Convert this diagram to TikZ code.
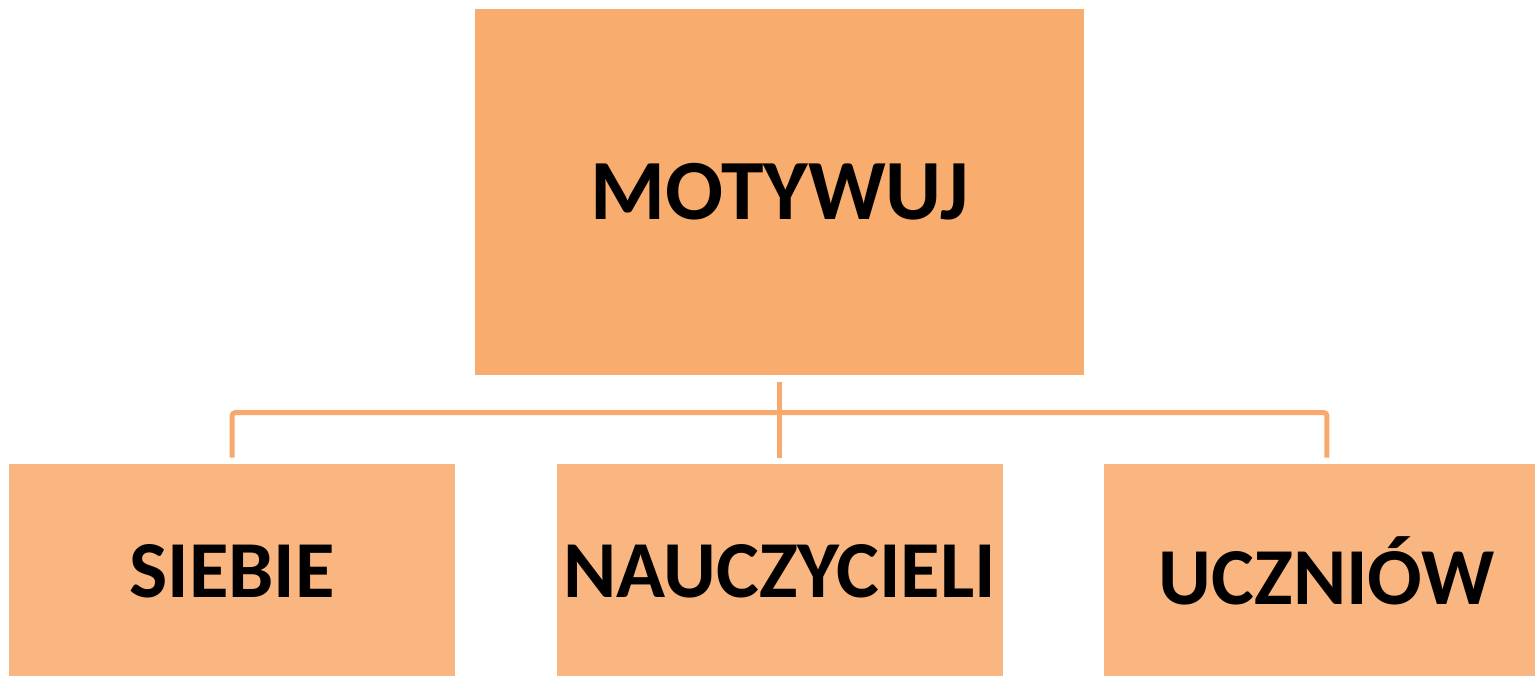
\documentclass[tikz,border=0pt]{standalone}
\usepackage{fontspec}
\setmainfont{Carlito}
\usetikzlibrary{positioning}
\definecolor{topfill}{HTML}{F8AC6E}
\definecolor{kidfill}{HTML}{F9B680}
\definecolor{linkcol}{HTML}{F8A96B}
\tikzset{
    %Define style for the top box
    topbox/.style={
           rectangle,
           fill=topfill,
           minimum width=6.09cm,
           minimum height=3.66cm,
           inner sep=0pt,
           font=\bfseries\fontsize{24.4}{29}\selectfont},
    %Define style for the lower boxes
    kidbox/.style={
           rectangle,
           fill=kidfill,
           minimum width=4.46cm,
           minimum height=2.13cm,
           inner sep=0pt,
           font=\bfseries\fontsize{23}{28}\selectfont},
    % Define connector style
    link/.style={
           draw=linkcol,
           line width=0.05cm,
           rounded corners=0.03cm,
           shorten <=0.06cm,
           shorten >=0.06cm,}
}
\begin{document}
\begin{tikzpicture}[node distance=1cm]
\useasboundingbox (0,0) rectangle (15.35,6.76);

%nodes
\node[topbox] (top) at (7.795,4.84) {MOTYWUJ};
\node[kidbox, below=0.88cm of top] (nauczyciele) {NAUCZYCIELI};
\node[kidbox, left=of nauczyciele] (siebie) {SIEBIE};
\node[kidbox, right=of nauczyciele] (uczniowie) {UCZNIÓW};

\draw [link] (top) -- (nauczyciele);
\draw [link]
    (siebie.north) -- ++(0,0.51) -| (uczniowie.north);

\end{tikzpicture}
\end{document}
